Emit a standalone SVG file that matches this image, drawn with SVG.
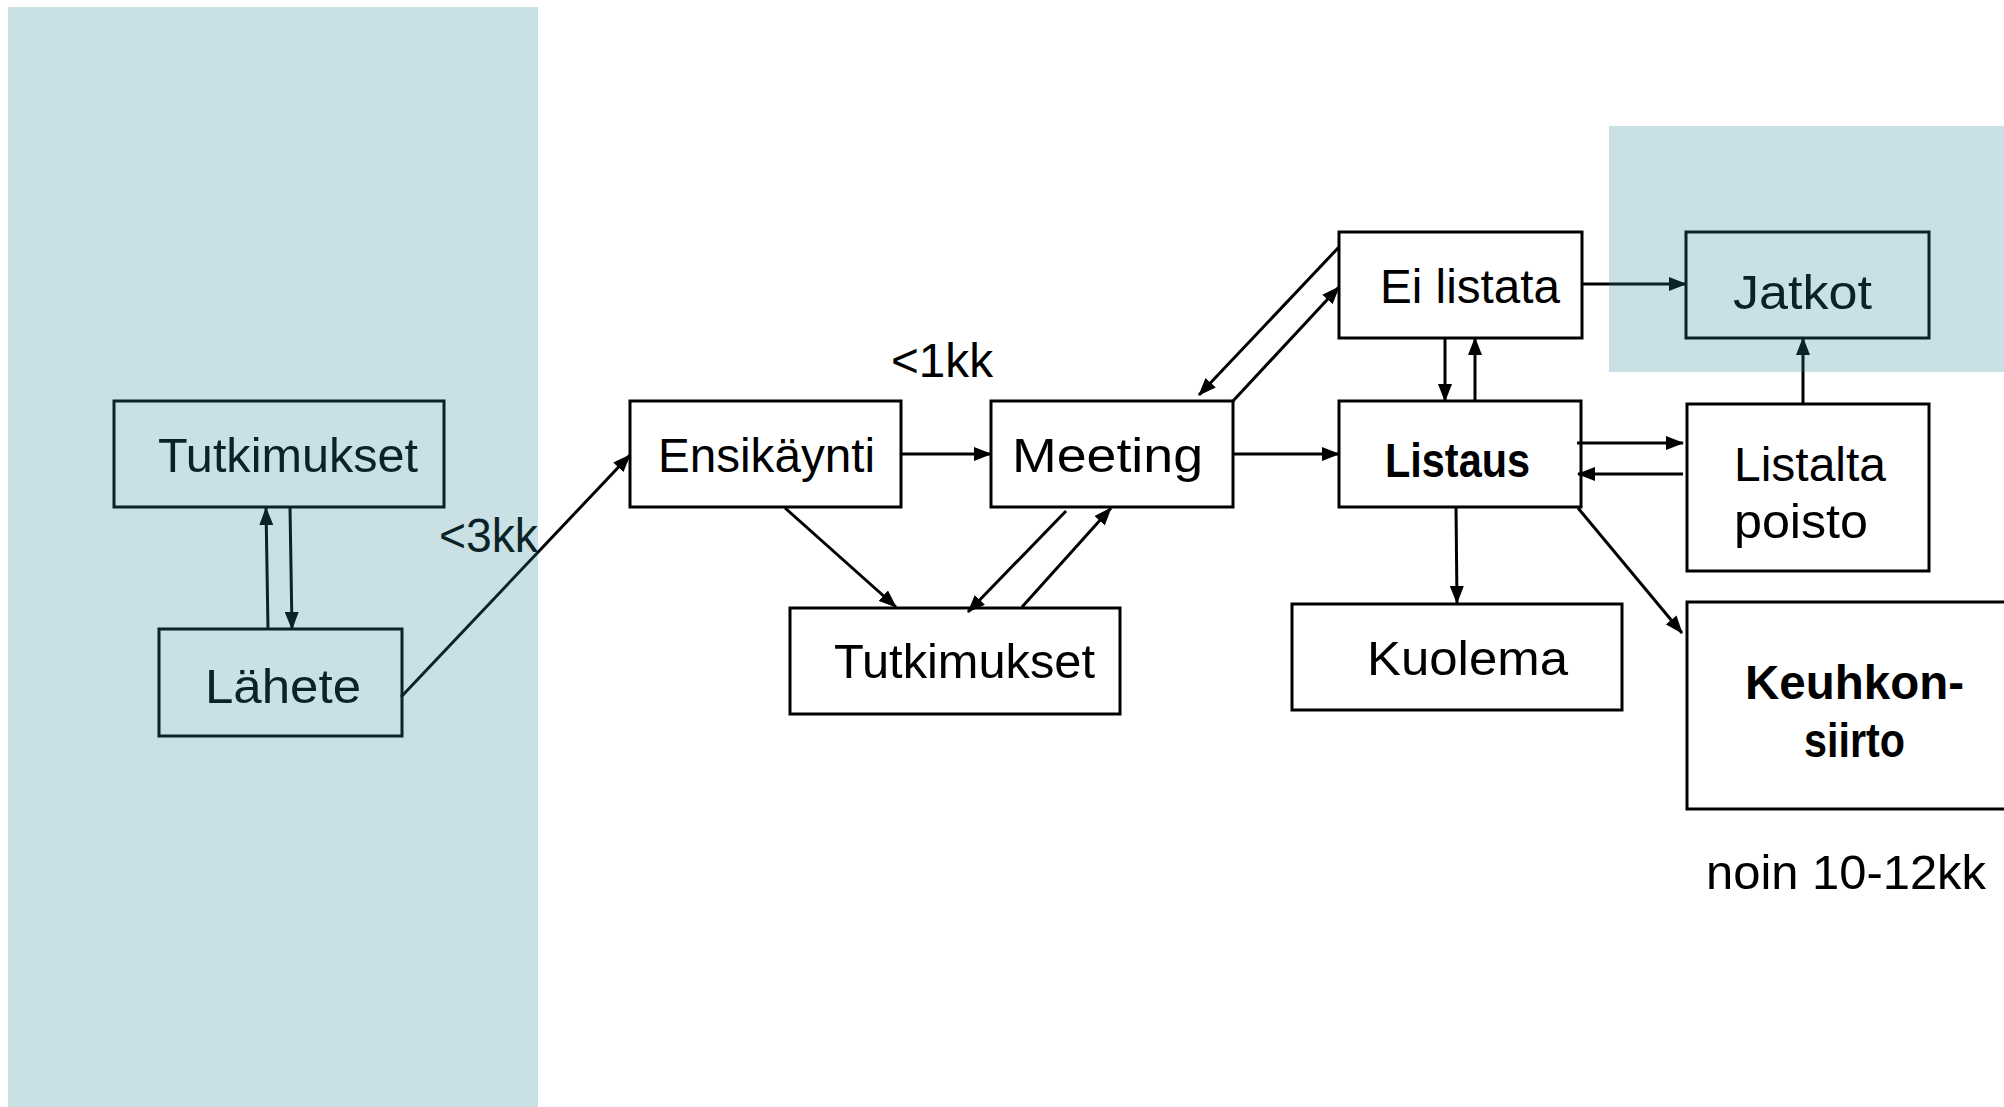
<svg xmlns="http://www.w3.org/2000/svg" width="2004" height="1107" viewBox="0 0 2004 1107">
<style>
.box{fill:#fff;stroke:#000;stroke-width:3}
.t{font-family:"Liberation Sans",Arial,sans-serif;font-size:48px;fill:#000}
.b{font-weight:bold}
.c{fill:none;stroke:#000;stroke-width:3}
.panel{fill:#2B8595;fill-opacity:0.255}
</style>
<defs>
<marker id="ah" markerUnits="userSpaceOnUse" markerWidth="18" markerHeight="14" refX="17" refY="7" orient="auto">
<path d="M0,0 L18,7 L0,14 Z" fill="#000"/>
</marker>
</defs>
<rect width="2004" height="1107" fill="#fff"/>
<g id="tutkimukset1"><rect class="box" x="114" y="401" width="330" height="106"/><text class="t" x="158" y="472" textLength="260" lengthAdjust="spacingAndGlyphs">Tutkimukset</text></g>
<g id="lahete"><rect class="box" x="159" y="629" width="243" height="107"/><text class="t" x="205" y="703" textLength="156" lengthAdjust="spacingAndGlyphs">Lähete</text></g>
<g id="ensikaynti"><rect class="box" x="630" y="401" width="271" height="106"/><text class="t" x="658" y="472" textLength="217" lengthAdjust="spacingAndGlyphs">Ensikäynti</text></g>
<g id="meeting"><rect class="box" x="991" y="401" width="242" height="106"/><text class="t" x="1012" y="472" textLength="191" lengthAdjust="spacingAndGlyphs">Meeting</text></g>
<g id="tutkimukset2"><rect class="box" x="790" y="608" width="330" height="106"/><text class="t" x="834" y="678" textLength="261" lengthAdjust="spacingAndGlyphs">Tutkimukset</text></g>
<g id="eilistata"><rect class="box" x="1339" y="232" width="243" height="106"/><text class="t" x="1380" y="303" textLength="180" lengthAdjust="spacingAndGlyphs">Ei listata</text></g>
<g id="listaus"><rect class="box" x="1339" y="401" width="242" height="106"/><text class="t b" x="1385" y="477" textLength="145" lengthAdjust="spacingAndGlyphs">Listaus</text></g>
<g id="jatkot"><rect class="box" x="1686" y="232" width="243" height="106"/><text class="t" x="1733" y="309" textLength="139" lengthAdjust="spacingAndGlyphs">Jatkot</text></g>
<g id="listaltapoisto"><rect class="box" x="1687" y="404" width="242" height="167"/><text class="t" x="1734" y="481" textLength="152" lengthAdjust="spacingAndGlyphs">Listalta</text><text class="t" x="1734" y="538" textLength="134" lengthAdjust="spacingAndGlyphs">poisto</text></g>
<g id="kuolema"><rect class="box" x="1292" y="604" width="330" height="106"/><text class="t" x="1367" y="675" textLength="201" lengthAdjust="spacingAndGlyphs">Kuolema</text></g>
<g id="keuhkonsiirto"><rect class="box" x="1687" y="602" width="330" height="207"/><text class="t b" x="1745" y="699" textLength="219" lengthAdjust="spacingAndGlyphs">Keuhkon-</text><text class="t b" x="1804" y="757" textLength="101" lengthAdjust="spacingAndGlyphs">siirto</text></g>
<g id="labels">
<text class="t" x="891" y="377" textLength="102" lengthAdjust="spacingAndGlyphs">&lt;1kk</text>
<text class="t" x="439" y="552" textLength="99" lengthAdjust="spacingAndGlyphs">&lt;3kk</text>
<text class="t" x="1706" y="889" textLength="280" lengthAdjust="spacingAndGlyphs">noin 10-12kk</text>
</g>
<g id="connectors">
<path class="c" d="M268,629 L266,508" marker-end="url(#ah)"/>
<path class="c" d="M290,507 L292,629" marker-end="url(#ah)"/>
<path class="c" d="M401,697 L630,455" marker-end="url(#ah)"/>
<path class="c" d="M901,454 L991,454" marker-end="url(#ah)"/>
<path class="c" d="M785,508 L896,607" marker-end="url(#ah)"/>
<path class="c" d="M1066,511 L968,612" marker-end="url(#ah)"/>
<path class="c" d="M1022,607 L1111,508" marker-end="url(#ah)"/>
<path class="c" d="M1339,247 L1199,395" marker-end="url(#ah)"/>
<path class="c" d="M1233,401 L1339,287" marker-end="url(#ah)"/>
<path class="c" d="M1233,454 L1339,454" marker-end="url(#ah)"/>
<path class="c" d="M1445,338 L1445,401" marker-end="url(#ah)"/>
<path class="c" d="M1475,401 L1475,338" marker-end="url(#ah)"/>
<path class="c" d="M1582,284 L1686,284" marker-end="url(#ah)"/>
<path class="c" d="M1577,443 L1683,443" marker-end="url(#ah)"/>
<path class="c" d="M1683,474 L1578,474" marker-end="url(#ah)"/>
<path class="c" d="M1803,404 L1803,338" marker-end="url(#ah)"/>
<path class="c" d="M1456,506 L1457,603" marker-end="url(#ah)"/>
<path class="c" d="M1578,508 L1682,633" marker-end="url(#ah)"/>
</g>
<g id="panels">
<rect class="panel" x="8" y="7" width="530" height="1100"/>
<rect class="panel" x="1609" y="126" width="395" height="246"/>
</g>
</svg>
